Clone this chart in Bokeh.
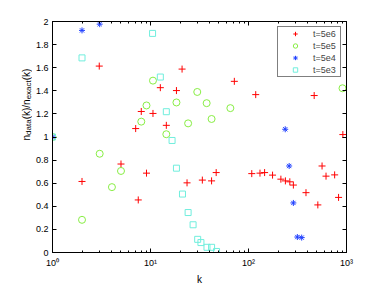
from bokeh.plotting import figure
from bokeh.layouts import row
from bokeh.models import Range1d, FixedTicker, LinearAxis, LogAxis, Label, CustomJSTickFormatter
from bokeh.embed import file_html
from bokeh.resources import INLINE

# ---------------- data ----------------
red_k = [2, 3, 5, 7.06, 7.5, 8.05, 9.1, 10.6, 12.6, 14.5, 18.4, 21, 23.6, 33.8, 42, 46.8,
         71.7, 108, 118.5, 131, 146, 176, 214, 238, 264, 287, 386, 468, 510, 563, 618, 757, 830, 918]
red_v = [0.615, 1.614, 0.766, 1.073, 0.455, 1.221, 0.687, 1.204, 1.427, 1.101, 1.402, 1.588, 0.603,
         0.627, 0.62, 0.692, 1.482, 0.683, 1.367, 0.687, 0.692, 0.67, 0.635, 0.62, 0.612, 0.584,
         0.518, 1.359, 0.412, 0.749, 0.661, 0.672, 0.477, 1.021]

green_k = [1, 2, 3.03, 4.04, 5, 8.05, 9.1, 10.6, 14.5, 18.4, 24.2, 30, 37.4, 42, 65.3, 910]
green_v = [1.0, 0.283, 0.855, 0.566, 0.706, 1.133, 1.273, 1.488, 1.024, 1.299, 1.118, 1.39,
           1.293, 1.156, 1.25, 1.422]

blue_k = [1, 2, 3.03, 212, 237, 260, 287, 315, 349]
blue_v = [1.0, 1.923, 1.977, 1.55, 1.067, 0.749, 0.429, 0.134, 0.129]

cyan_k = [1, 2, 10.5, 12.6, 14.5, 16.6, 18.4, 21.2, 24.2, 27.2, 30.3, 32.7, 37.7, 42, 47.2]
cyan_v = [1.0, 1.685, 1.897, 1.519, 1.219, 0.97, 0.73, 0.506, 0.346, 0.24, 0.114, 0.086,
          0.045, 0.045, 0.009]

series_labels = ["t=5e6", "t=5e5", "t=5e4", "t=5e3"]

x_major = [1, 10, 100, 1000]
x_tick_labels = ["10\u2070", "10\u00b9", "10\u00b2", "10\u00b3"]
x_minor = [m * d for d in [1, 10, 100] for m in range(2, 10)]
y_ticks = [0, 0.2, 0.4, 0.6, 0.8, 1.0, 1.2, 1.4, 1.6, 1.8, 2.0]

FONT = "Liberation Sans"
LABEL_W = 32

p = figure(width=382 - LABEL_W, height=287, x_axis_type="log",
           x_range=Range1d(1, 1000), y_range=Range1d(0, 2),
           output_backend="svg", toolbar_location=None,
           min_border_left=49 - LABEL_W, min_border_right=36, min_border_top=21, min_border_bottom=33)
p.grid.visible = False
p.outline_line_color = "black"
p.outline_line_width = 1
p.background_fill_color = "white"
p.border_fill_color = "white"

blank = CustomJSTickFormatter(code="return '';")
yfmt = CustomJSTickFormatter(code="var s = tick.toFixed(1); if (s.endsWith('.0')) { s = s.slice(0, -2); } return s;")
xfmt = CustomJSTickFormatter(args=dict(major_vals=x_major, major_labs=x_tick_labels),
                             code="const i = major_vals.indexOf(tick); return i >= 0 ? major_labs[i] : '';")

xt = FixedTicker(ticks=x_major, minor_ticks=x_minor)
yt = FixedTicker(ticks=y_ticks)

def style_axis(ax):
    ax.axis_line_color = "black"
    ax.major_tick_line_color = "black"
    ax.minor_tick_line_color = "black"
    ax.major_tick_in = 4
    ax.major_tick_out = 0
    ax.minor_tick_in = 2
    ax.minor_tick_out = 0
    ax.major_label_text_font = FONT
    ax.major_label_text_font_size = "9px"
    ax.major_label_text_color = "black"
    ax.axis_label = None

bx = p.xaxis[0]
bx.ticker = xt
bx.formatter = xfmt
style_axis(bx)
bx.major_label_standoff = 5
bx.axis_label = "k"
bx.axis_label_text_font = FONT
bx.axis_label_text_font_size = "10px"
bx.axis_label_text_font_style = "normal"
bx.axis_label_text_color = "black"
bx.axis_label_standoff = 3

ly = p.yaxis[0]
ly.ticker = yt
ly.formatter = yfmt
style_axis(ly)
ly.minor_tick_line_color = None
ly.major_label_standoff = 4

top = LogAxis(ticker=xt, formatter=blank)
style_axis(top)
p.add_layout(top, "above")

right = LinearAxis(ticker=yt, formatter=blank)
style_axis(right)
right.minor_tick_line_color = None
p.add_layout(right, "right")

# ---------------- series ----------------
p.scatter(red_k, red_v, marker="cross", size=7, line_color="#ff0000", line_width=1,
          legend_label=series_labels[0])
p.scatter(green_k, green_v, marker="circle", size=7, line_color="#88ee44", fill_color=None,
          line_width=1, legend_label=series_labels[1])
p.scatter(blue_k, blue_v, marker="asterisk", size=6, line_color="#2040ff", line_width=1,
          legend_label=series_labels[2])
p.scatter(cyan_k, cyan_v, marker="square", size=6, line_color="#70eedd", fill_color=None,
          line_width=1, legend_label=series_labels[3])

lg = p.legend[0]
lg.location = "top_right"
lg.margin = 5
lg.padding = 1
lg.spacing = 1
lg.label_height = 11
lg.glyph_height = 11
lg.glyph_width = 32
lg.label_standoff = 2
lg.label_width = 26
lg.label_text_font = FONT
lg.label_text_font_size = "9px"
lg.border_line_color = "black"
lg.border_line_width = 1
lg.background_fill_color = "white"
lg.background_fill_alpha = 1.0

# ---------------- y axis label n_data(k)/n_exact(k) in a narrow side panel ----------------
yl = figure(width=LABEL_W, height=287, x_range=Range1d(0, 1), y_range=Range1d(0, 1),
            output_backend="svg", toolbar_location=None,
            x_axis_location=None, y_axis_location=None,
            min_border_left=0, min_border_right=0, min_border_top=0, min_border_bottom=0)
yl.grid.visible = False
yl.outline_line_color = None
yl.background_fill_color = "white"
yl.border_fill_color = "white"

adv = {"n": .556, "d": .556, "a": .556, "t": .278, "(": .333, "k": .5, ")": .333,
       "/": .278, "e": .556, "x": .5, "c": .5}
parts = [("n", 10, 0), ("data", 8, 2.8), ("(k)/n", 10, 0), ("exact", 8, 2.8), ("(k)", 10, 0)]
ypos = 112.0
base_x = 25.5
for txt, fs, dx in parts:
    yl.add_layout(Label(x=base_x + dx, y=ypos, x_units="screen", y_units="screen", text=txt,
                        angle=1.5707963267948966, text_align="left", text_baseline="alphabetic",
                        text_font=FONT, text_font_size=f"{fs}px", text_color="black"))
    ypos += sum(adv[c] for c in txt) * fs

layout = row(yl, p, spacing=0)
open("out.html", "w").write(file_html(layout, INLINE))
